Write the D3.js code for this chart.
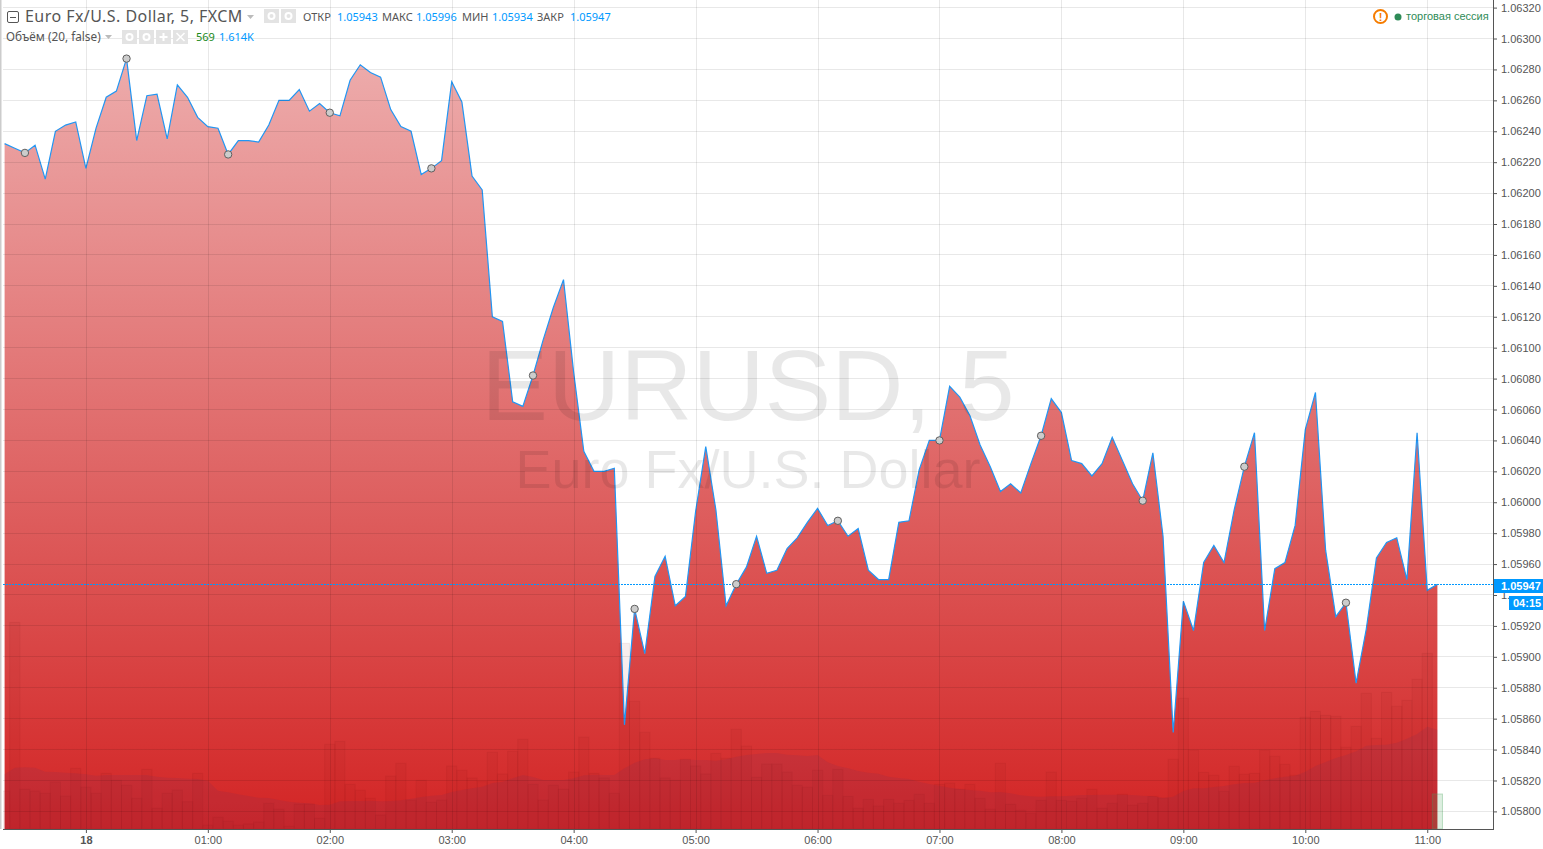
<!DOCTYPE html>
<html>
<head>
<meta charset="utf-8">
<script src="https://cdnjs.cloudflare.com/ajax/libs/d3/7.8.5/d3.min.js"></script>
<style>
html, body { margin: 0; padding: 0; background: #fff; overflow: hidden; }
svg { display: block; }
text { font-family: "Liberation Sans", sans-serif; }
.hdr { font-family: "Noto Sans", sans-serif; font-size: 11px; fill: #555; }
.axis text { font-size: 11px; fill: #555; }
.axis path, .axis line { stroke: #555; }
</style>
</head>
<body>
<svg id="chart" width="1543" height="849"></svg>
<script>
// 5 min closes, first bar 23:20
const closes = [
  1.06232,1.06229,1.06226,1.06231,1.06209,1.06240,1.06244,1.06246,1.06216,1.06242,
  1.06262,1.06266,1.06287,1.06234,1.06263,1.06264,1.06235,1.06270,1.06262,1.06249,
  1.06243,1.06242,1.06225,1.06234,1.06234,1.06233,1.06244,1.06260,1.06260,1.06267,
  1.06253,1.06258,1.06252,1.06250,1.06273,1.06283,1.06278,1.06275,1.06254,1.06243,
  1.06240,1.06212,1.06216,1.06221,1.06272,1.06259,1.06211,1.06202,1.06120,1.06117,
  1.06065,1.06062,1.06082,1.06105,1.06126,1.06144,1.06084,1.06033,1.06020,1.06020,
  1.06022,1.05856,1.05931,1.05902,1.05952,1.05965,1.05933,1.05939,1.05994,1.06036,
  1.05995,1.05933,1.05947,1.05958,1.05978,1.05954,1.05956,1.05970,1.05977,1.05987,
  1.05996,1.05985,1.05988,1.05978,1.05983,1.05956,1.05950,1.05950,1.05987,1.05988,
  1.06021,1.06040,1.06040,1.06075,1.06068,1.06056,1.06037,1.06023,1.06007,1.06012,
  1.06006,1.06025,1.06043,1.06067,1.06058,1.06027,1.06025,1.06017,1.06025,1.06042,
  1.06027,1.06012,1.06001,1.06032,1.05978,1.05851,1.05936,1.05917,1.05961,1.05972,
  1.05961,1.05995,1.06023,1.06045,1.05917,1.05957,1.05961,1.05985,1.06047,1.06071,
  1.05969,1.05926,1.05935,1.05883,1.05918,1.05964,1.05974,1.05977,1.05950,1.06045,
  1.05943,1.05947
];
const volumes = [
  618,3360,645,618,580,764,537,986,678,580,
  905,791,710,499,970,336,580,634,444,905,
  60,190,125,60,81,114,417,320,43,407,
  407,173,1377,1425,726,629,499,228,862,1068,
  472,791,434,472,1024,954,829,770,1247,894,
  1263,1458,726,472,710,645,927,1496,905,829,
  580,3019,2076,1572,1149,829,791,1133,1024,894,
  1230,1149,1621,1350,840,1057,1057,927,710,678,
  954,547,970,531,336,482,374,482,417,466,
  564,417,726,748,645,726,499,320,1068,401,
  304,255,466,927,466,450,499,645,336,417,
  564,385,417,531,504,1133,2125,1285,921,873,
  612,1019,889,905,1285,1182,1051,873,1816,1913,
  1848,1832,1328,1669,2206,1474,2222,1995,2092,2434,
  2856,569
];
const volumeMA = [
  889,997,1003,997,932,927,916,905,889,867,
  878,878,878,878,878,851,835,829,818,813,
  786,623,596,564,537,509,504,472,444,428,
  417,390,396,450,455,455,461,450,455,466,
  493,520,542,553,602,634,661,688,748,770,
  824,878,846,797,797,797,824,873,883,878,
  878,986,1079,1133,1149,1122,1122,1133,1122,1122,
  1111,1133,1176,1203,1220,1236,1236,1209,1198,1187,
  1203,1084,1024,986,943,916,900,851,829,813,
  770,732,705,672,650,634,623,596,602,580,
  547,531,526,531,531,542,553,553,558,558,
  558,553,542,531,504,526,618,661,661,683,
  699,726,748,753,791,824,851,867,932,1024,
  1089,1154,1203,1263,1355,1366,1371,1404,1469,1545,
  1664,1614
];
// bars that carry a split marker
const markers = [2,12,22,32,42,52,62,72,82,92,102,112,122,132];
const timeTicks = [8,20,32,44,56,68,80,92,104,116,128,140];
const timeLabels = ["18","01:00","02:00","03:00","04:00","05:00","06:00","07:00","08:00","09:00","10:00","11:00"];
const priceTicks = [];
for (let k = 0; k <= 26; k++) priceTicks.push(+(1.058 + k * 0.0002).toFixed(5));
const lastPrice = 1.05947;
const ohlc = [["ОТКР",303,"1.05943",337],["МАКС",382,"1.05996",416],["МИН",462,"1.05934",492],["ЗАКР",537,"1.05947",570]];

const svg = d3.select("#chart");
const blue = "#0099ff";

const x = d3.scaleLinear().domain([0, 141]).range([4.6, 1437.4]);
const y = d3.scaleLinear().domain([1.058, 1.0632]).range([811.4, 7.6]);
const yVol = d3.scaleLinear().domain([0, 5000]).range([829, 521.5]);
const barW = 10.16;

const defs = svg.append("defs");
const grad = defs.append("linearGradient").attr("id", "areaFill")
  .attr("gradientUnits", "userSpaceOnUse")
  .attr("x1", 0).attr("x2", 0).attr("y1", 58).attr("y2", 829);
grad.append("stop").attr("offset", 0).attr("stop-color", "#d22f2f").attr("stop-opacity", 0.4);
grad.append("stop").attr("offset", 1).attr("stop-color", "#d32424").attr("stop-opacity", 1);
defs.append("clipPath").attr("id", "pane").append("rect")
  .attr("x", 3).attr("y", 0).attr("width", 1490).attr("height", 829);

const pane = svg.append("g").attr("clip-path", "url(#pane)");

const idx = d3.range(closes.length);

// price area
pane.append("path").datum(idx)
  .attr("fill", "url(#areaFill)")
  .attr("d", d3.area().x(i => x(i)).y0(829).y1(i => y(closes[i])));

// volume
pane.selectAll("rect.vol").data(idx).enter().append("rect")
  .attr("class", "vol")
  .attr("x", i => x(i) - barW / 2)
  .attr("y", i => yVol(volumes[i]))
  .attr("width", barW)
  .attr("height", i => 829 - yVol(volumes[i]))
  .attr("fill", i => i === 141 ? "rgba(83,170,100,0.2)" : "rgba(150,20,25,0.08)")
  .attr("stroke", i => i === 141 ? "rgba(83,170,100,0.35)" : "rgba(120,25,25,0.07)");

// volume MA
pane.append("path").datum(idx)
  .attr("fill", "rgba(90,50,110,0.12)")
  .attr("d", d3.area().x(i => x(i)).y0(829).y1(i => yVol(volumeMA[i])));

// grid goes above the fill, it shows through in the picture
const grid = svg.append("g").attr("stroke", "rgba(0,0,0,0.09)").attr("shape-rendering", "crispEdges");
grid.selectAll("line.h").data(priceTicks).enter().append("line")
  .attr("x1", 3).attr("x2", 1493)
  .attr("y1", d => Math.floor(y(d)) + 0.5).attr("y2", d => Math.floor(y(d)) + 0.5);
grid.selectAll("line.v").data(timeTicks).enter().append("line")
  .attr("y1", 0).attr("y2", 829)
  .attr("x1", d => Math.round(x(d)) + 0.5).attr("x2", d => Math.round(x(d)) + 0.5);

// watermark
svg.append("text").attr("x", 748).attr("y", 420).attr("text-anchor", "middle")
  .attr("font-size", 100).attr("fill", "rgba(0,0,0,0.09)").text("EURUSD, 5");
svg.append("text").attr("x", 748).attr("y", 488).attr("text-anchor", "middle")
  .attr("font-size", 54).attr("fill", "rgba(0,0,0,0.09)").text("Euro Fx/U.S. Dollar");

// price line + last price
svg.append("line").attr("x1", 3).attr("x2", 1493)
  .attr("y1", Math.round(y(lastPrice)) + 0.5).attr("y2", Math.round(y(lastPrice)) + 0.5)
  .attr("stroke", blue).attr("stroke-dasharray", "2,1");
pane.append("path").datum(idx)
  .attr("fill", "none").attr("stroke", "#2196f3").attr("stroke-width", 1.2)
  .attr("d", d3.line().x(i => x(i)).y(i => y(closes[i])));

svg.selectAll("circle.mark").data(markers).enter().append("circle")
  .attr("class", "mark")
  .attr("cx", i => x(i)).attr("cy", i => y(closes[i])).attr("r", 3.7)
  .attr("fill", "#ccc").attr("stroke", "#5f5f5f").attr("stroke-width", 1);

// left edge
svg.append("rect").attr("x", 0).attr("y", 0).attr("width", 1.5).attr("height", 829).attr("fill", "#ccc");

// axes
const yAxis = svg.append("g").attr("class", "axis").attr("transform", "translate(1493,0)")
  .call(d3.axisRight(y).tickValues(priceTicks).tickFormat(d3.format(".5f")).tickSize(4).tickPadding(4));
yAxis.select(".domain").remove();
svg.append("line").attr("x1", 1493.5).attr("x2", 1493.5).attr("y1", 0).attr("y2", 830).attr("stroke", "#555");

const xAxis = svg.append("g").attr("class", "axis").attr("transform", "translate(0,829)")
  .call(d3.axisBottom(x).tickValues(timeTicks).tickFormat((d, i) => timeLabels[i]).tickSize(4).tickPadding(3));
xAxis.select(".domain").remove();
xAxis.selectAll("text").filter((d, i) => i === 0).attr("font-weight", "bold");
svg.append("line").attr("x1", 3).attr("x2", 1493).attr("y1", 829.5).attr("y2", 829.5).attr("stroke", "#555");

// last price tags, they sit over the 1.05940 label
svg.append("rect").attr("x", 1509).attr("y", 592).attr("width", 34).attr("height", 5).attr("fill", "#fff");
svg.append("rect").attr("x", 1494).attr("y", 579).attr("width", 49).attr("height", 14).attr("fill", blue);
svg.append("text").attr("x", 1501).attr("y", 590).attr("font-size", 11).attr("font-weight", "bold").attr("fill", "#fff").text("1.05947");
svg.append("rect").attr("x", 1509).attr("y", 596).attr("width", 34).attr("height", 14).attr("fill", blue);
svg.append("text").attr("x", 1513).attr("y", 607).attr("font-size", 11).attr("font-weight", "bold").attr("fill", "#fff").text("04:15");

// header
const head = svg.append("g");
head.append("rect").attr("x", 7.5).attr("y", 11.5).attr("width", 11).attr("height", 11).attr("rx", 1.5).attr("fill", "#fff").attr("stroke", "#555");
head.append("line").attr("x1", 10).attr("x2", 16).attr("y1", 17.5).attr("y2", 17.5).attr("stroke", "#555");
head.append("text").attr("x", 25).attr("y", 22).attr("class", "hdr")
  .style("font-size", "16px").style("letter-spacing", "0.45px").text("Euro Fx/U.S. Dollar, 5, FXCM");
head.append("path").attr("d", "M247,15h7l-3.5,4z").attr("fill", "#bbb");

function icons(list, top) {
  list.forEach(d => {
    const px = d[0], cx = px + 7.5, cy = top + 7;
    head.append("rect").attr("x", px).attr("y", top).attr("width", 15).attr("height", 14).attr("fill", "#e3e3e3");
    if (d[1] === "o") {
      head.append("circle").attr("cx", cx).attr("cy", cy).attr("r", 3).attr("fill", "none").attr("stroke", "#fff").attr("stroke-width", 2);
    } else if (d[1] === "+") {
      head.append("path").attr("d", `M${cx - 4},${cy}h8M${cx},${cy - 4}v8`).attr("stroke", "#fff").attr("stroke-width", 2);
    } else {
      head.append("path").attr("d", `M${cx - 4},${cy - 4}l8,8M${cx + 4},${cy - 4}l-8,8`).attr("stroke", "#fff").attr("stroke-width", 1.5);
    }
  });
}
icons([[264, "o"], [281, "o"]], 9);
icons([[122, "o"], [139, "o"], [156, "+"], [173, "x"]], 30);

ohlc.forEach(d => {
  head.append("text").attr("class", "hdr").attr("x", d[1]).attr("y", 21).text(d[0]);
  head.append("text").attr("class", "hdr").attr("x", d[3]).attr("y", 21).style("fill", blue).text(d[2]);
});
head.append("text").attr("class", "hdr").attr("x", 6).attr("y", 41).style("font-size", "11.8px").text("Объём (20, false)");
head.append("path").attr("d", "M105,35h7l-3.5,4z").attr("fill", "#bbb");
head.append("text").attr("class", "hdr").attr("x", 196).attr("y", 41).style("fill", "#1a8a1a").text(volumes[141]);
head.append("text").attr("class", "hdr").attr("x", 219).attr("y", 41).style("fill", blue).text("1.614K");

// session status
head.append("circle").attr("cx", 1380.5).attr("cy", 16.5).attr("r", 6.5).attr("fill", "#fff").attr("stroke", "#f57c00").attr("stroke-width", 2);
head.append("text").attr("x", 1380.5).attr("y", 20.5).attr("text-anchor", "middle").attr("font-size", 11).attr("font-weight", "bold").attr("fill", "#f57c00").text("!");
head.append("circle").attr("cx", 1398).attr("cy", 17).attr("r", 3.5).attr("fill", "#2e8b57");
head.append("text").attr("x", 1406).attr("y", 20).attr("font-size", 11).attr("fill", "#2e8b57").text("торговая сессия");
</script>
</body>
</html>
